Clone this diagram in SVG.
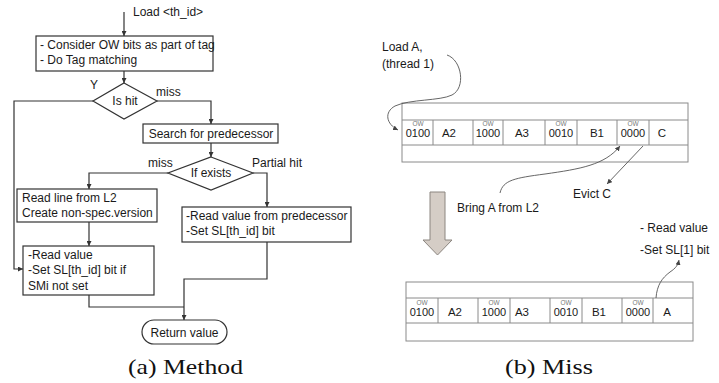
<svg xmlns="http://www.w3.org/2000/svg" width="719" height="383" viewBox="0 0 719 383">
  <style>
    .t { font-family: "Liberation Sans", Arial, sans-serif; font-size: 12px; fill: #1a1a1a; }
    .c { text-anchor: middle; }
    .box { fill: #fff; stroke: #333; stroke-width: 1.2; }
    .ln { fill: none; stroke: #333; stroke-width: 1.2; }
    .cell { fill: #fff; stroke: #8a8a8a; stroke-width: 1; }
    .sep { stroke: #8a8a8a; stroke-width: 1; }
    .num { font-family: "Liberation Sans", Arial, sans-serif; font-size: 11px; fill: #1a1a1a; text-anchor: middle; }
    .ow { font-family: "Liberation Sans", Arial, sans-serif; font-size: 6.5px; fill: #777; text-anchor: middle; }
    .dat { font-family: "Liberation Sans", Arial, sans-serif; font-size: 11.5px; fill: #1a1a1a; text-anchor: middle; }
    .curve { fill: none; stroke: #555; stroke-width: 0.9; }
    .cap { font-family: "Liberation Serif", "Times New Roman", serif; font-size: 21px; fill: #111; }
  </style>
  <defs>
    <marker id="ah" viewBox="0 0 10 10" refX="10" refY="5" markerWidth="5" markerHeight="5" markerUnits="userSpaceOnUse" orient="auto">
      <path d="M0,0 L10,5 L0,10 z" fill="#333"/>
    </marker>
    <marker id="ahs" viewBox="0 0 10 10" refX="10" refY="5" markerWidth="5" markerHeight="5" markerUnits="userSpaceOnUse" orient="auto">
      <path d="M0,0 L10,5 L0,10 z" fill="#444"/>
    </marker>
  </defs>

  <rect width="719" height="383" fill="#fff"/>

  <!-- (a) flowchart connectors -->
  <g id="flow-connectors">
    <line class="ln" x1="124" y1="12" x2="124" y2="36" marker-end="url(#ah)"/>
    <line class="ln" x1="124" y1="71" x2="124" y2="83" marker-end="url(#ah)"/>
    <path class="ln" d="M93,101 H14 V269 H23" marker-end="url(#ah)"/>
    <path class="ln" d="M157,101 H211 V124" marker-end="url(#ah)"/>
    <line class="ln" x1="211" y1="143" x2="211" y2="157" marker-end="url(#ah)"/>
    <path class="ln" d="M168,173 H89 V189" marker-end="url(#ah)"/>
    <path class="ln" d="M253,173 H267 V207" marker-end="url(#ah)"/>
    <line class="ln" x1="89" y1="222" x2="89" y2="246" marker-end="url(#ah)"/>
    <path class="ln" d="M89,295 V307 H184"/>
    <path class="ln" d="M267,242 V279 H184 V320" marker-end="url(#ah)"/>
    <text class="t" x="133" y="16">Load &lt;th_id&gt;</text>
    <text class="t" x="90" y="89">Y</text>
    <text class="t" x="156" y="96">miss</text>
    <text class="t" x="148" y="167">miss</text>
    <text class="t" x="252" y="167">Partial hit</text>
  </g>

  <!-- (a) flowchart nodes -->
  <g id="tag-match">
    <rect class="box" x="36" y="36" width="177" height="35"/>
    <text class="t" x="40" y="49">- Consider OW bits as part of tag</text>
    <text class="t" x="40" y="64">- Do Tag matching</text>
  </g>
  <g id="is-hit">
    <polygon class="box" points="124,83 157,101 124,119 93,101"/>
    <text class="t c" x="125" y="105">Is hit</text>
  </g>
  <g id="search-pred">
    <rect class="box" x="143" y="124" width="135" height="19"/>
    <text class="t c" x="211" y="138">Search for predecessor</text>
  </g>
  <g id="if-exists">
    <polygon class="box" points="211,157 253,173 211,190 168,173"/>
    <text class="t c" x="211" y="177">If exists</text>
  </g>
  <g id="read-l2">
    <rect class="box" x="17" y="189" width="140" height="33"/>
    <text class="t" x="22" y="202">Read line from L2</text>
    <text class="t" x="22" y="217">Create non-spec.version</text>
  </g>
  <g id="read-pred">
    <rect class="box" x="182" y="207" width="169" height="35"/>
    <text class="t" x="186" y="220">-Read value from predecessor</text>
    <text class="t" x="186" y="235">-Set SL[th_id] bit</text>
  </g>
  <g id="read-value">
    <rect class="box" x="23" y="246" width="131" height="49"/>
    <text class="t" x="28" y="259">-Read value</text>
    <text class="t" x="28" y="274">-Set SL[th_id] bit if</text>
    <text class="t" x="28" y="290">SMi not set</text>
  </g>
  <g id="return-value">
    <rect class="box" x="142" y="320" width="85" height="24" rx="12" ry="12"/>
    <text class="t c" x="184.5" y="337">Return value</text>
  </g>

  <text class="cap" x="128" y="374" textLength="115" lengthAdjust="spacingAndGlyphs">(a) Method</text>

  <!-- (b) cache set before the miss -->
  <g id="set-before">
    <rect class="cell" x="402" y="103" width="286" height="59"/>
    <line class="sep" x1="402" y1="120" x2="688" y2="120"/>
    <line class="sep" x1="402" y1="145" x2="688" y2="145"/>
    <line class="sep" x1="433" y1="120" x2="433" y2="145"/>
    <line class="sep" x1="473" y1="120" x2="473" y2="145"/>
    <line class="sep" x1="503" y1="120" x2="503" y2="145"/>
    <line class="sep" x1="545" y1="120" x2="545" y2="145"/>
    <line class="sep" x1="577" y1="120" x2="577" y2="145"/>
    <line class="sep" x1="617" y1="120" x2="617" y2="145"/>
    <line class="sep" x1="649" y1="120" x2="649" y2="145"/>
    <text class="ow" x="418" y="126">OW</text>
    <text class="num" x="418" y="137">0100</text>
    <text class="dat" x="449" y="137">A2</text>
    <text class="ow" x="488" y="126">OW</text>
    <text class="num" x="488" y="137">1000</text>
    <text class="dat" x="522" y="137">A3</text>
    <text class="ow" x="561" y="126">OW</text>
    <text class="num" x="561" y="137">0010</text>
    <text class="dat" x="597" y="137">B1</text>
    <text class="ow" x="633" y="126">OW</text>
    <text class="num" x="633" y="137">0000</text>
    <text class="dat" x="662" y="137">C</text>
  </g>

  <!-- (b) cache set after the fill -->
  <g id="set-after">
    <rect class="cell" x="406" y="282" width="287" height="59"/>
    <line class="sep" x1="406" y1="298" x2="693" y2="298"/>
    <line class="sep" x1="406" y1="323" x2="693" y2="323"/>
    <line class="sep" x1="438" y1="298" x2="438" y2="323"/>
    <line class="sep" x1="478" y1="298" x2="478" y2="323"/>
    <line class="sep" x1="510" y1="298" x2="510" y2="323"/>
    <line class="sep" x1="550" y1="298" x2="550" y2="323"/>
    <line class="sep" x1="582" y1="298" x2="582" y2="323"/>
    <line class="sep" x1="622" y1="298" x2="622" y2="323"/>
    <line class="sep" x1="653" y1="298" x2="653" y2="323"/>
    <text class="ow" x="422" y="305">OW</text>
    <text class="num" x="422" y="316">0100</text>
    <text class="dat" x="455" y="316">A2</text>
    <text class="ow" x="494" y="305">OW</text>
    <text class="num" x="494" y="316">1000</text>
    <text class="dat" x="522" y="316">A3</text>
    <text class="ow" x="566" y="305">OW</text>
    <text class="num" x="566" y="316">0010</text>
    <text class="dat" x="599" y="316">B1</text>
    <text class="ow" x="638" y="305">OW</text>
    <text class="num" x="638" y="316">0000</text>
    <text class="dat" x="667" y="316">A</text>
  </g>

  <!-- big transition arrow -->
  <g id="transition">
    <polygon points="430,192 445,192 445,240 452,240 437.5,255 423,240 430,240" fill="#d5cdc6" stroke="#8c8680" stroke-width="1"/>
  </g>

  <!-- (b) annotations -->
  <g id="miss-connectors">
    <path class="curve" d="M447,55 C462,60 466,88 452,95 C440,101 410,99 395,106 C384,112 386,124 398,130" marker-end="url(#ahs)"/>
    <path class="curve" d="M500,193 C503,180 515,178 545,174 C580,169 605,165 620,146" marker-end="url(#ahs)"/>
    <line class="curve" x1="643" y1="146" x2="607" y2="184" marker-end="url(#ahs)"/>
    <path class="curve" d="M656,298 C657,285 662,278 670,272 C676,268 678,265 679,260" marker-end="url(#ahs)"/>
  </g>
  <text class="t" x="382" y="51">Load A,</text>
  <text class="t" x="382" y="68">(thread 1)</text>
  <text class="t" x="457" y="212">Bring A from L2</text>
  <text class="t" x="573" y="198">Evict C</text>
  <text class="t" x="640" y="232">- Read value</text>
  <text class="t" x="640" y="254">-Set SL[1] bit</text>

  <text class="cap" x="505" y="374" textLength="88" lengthAdjust="spacingAndGlyphs">(b) Miss</text>
</svg>
